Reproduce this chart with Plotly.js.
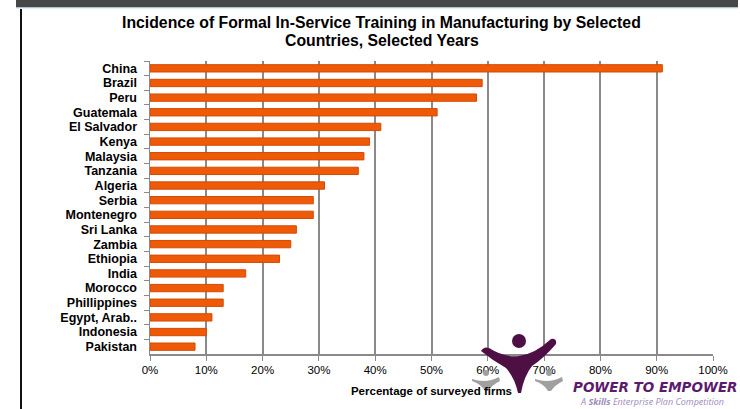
<!DOCTYPE html>
<html>
<head>
<meta charset="utf-8">
<script src="https://cdn.plot.ly/plotly-3.0.1.min.js"></script>
<style>html,body{margin:0;padding:0;background:#fff;}#chart{width:740px;height:409px;}</style>
</head>
<body>
<div id="chart"></div>
<script>
const countries = ["China","Brazil","Peru","Guatemala","El Salvador","Kenya","Malaysia","Tanzania","Algeria","Serbia","Montenegro","Sri Lanka","Zambia","Ethiopia","India","Morocco","Phillippines","Egypt, Arab..","Indonesia","Pakistan"];
const shares = [0.91,0.59,0.58,0.51,0.41,0.39,0.38,0.37,0.31,0.29,0.29,0.26,0.25,0.23,0.17,0.13,0.13,0.11,0.10,0.08];
const xTickVals = [0,0.1,0.2,0.3,0.4,0.5,0.6,0.7,0.8,0.9,1.0];
const xTickText = ["0%","10%","20%","30%","40%","50%","60%","70%","80%","90%","100%"];
const titleLines = ["Incidence of Formal In-Service Training in Manufacturing by Selected", "Countries, Selected Years"];
const xTitle = "Percentage of surveyed firms";
const logoText = "POWER TO EMPOWER";
const logoSub = "A <b>Skills</b> Enterprise Plan Competition";

const W = 740, H = 409, L = 150, R = 27, T = 61, B = 55;
const px = x => (x - L) / (W - L - R);
const py = y => (H - B - y) / (H - T - B);

const trace = {
  type: "bar",
  orientation: "h",
  y: countries,
  x: shares,
  marker: {color: "#ee5a08", line: {color: "#d44b02", width: 1}},
  width: 0.5,
  hoverinfo: "skip"
};

const purple = "#4e0f45";
const grey = "#a0a0a0";
const smallFig = cx => [
  {type:"circle", xref:"paper", yref:"paper", x0:px(cx-3), x1:px(cx+3), y0:py(370), y1:py(376), fillcolor:grey, line:{width:0}},
  {type:"path", xref:"paper", yref:"paper", path:`M ${px(cx-14)} ${py(379)} Q ${px(cx)} ${py(384)} ${px(cx+13)} ${py(377)} L ${px(cx+14)} ${py(381)} Q ${px(cx+6)} ${py(385)} ${px(cx+2)} ${py(391)} L ${px(cx-1)} ${py(391)} Q ${px(cx-5)} ${py(384)} ${px(cx-14)} ${py(381)} Z`, fillcolor:grey, line:{width:0}}
];

const shapes = [
  {type:"rect", xref:"paper", yref:"paper", x0:px(16), x1:px(738), y0:py(0), y1:py(7.5), fillcolor:"#474747", line:{width:0}},
  {type:"line", xref:"paper", yref:"paper", x0:px(16), x1:px(738), y0:py(8), y1:py(8), line:{color:"#bfe8ee", width:1}},
  {type:"line", xref:"paper", yref:"paper", x0:px(21), x1:px(21), y0:py(9), y1:py(409), line:{color:"#111", width:2}},
  ...smallFig(486),
  ...smallFig(549),
  {type:"circle", xref:"paper", yref:"paper", x0:px(512), x1:px(526), y0:py(334), y1:py(348), fillcolor:purple, line:{width:0}},
  {type:"path", xref:"paper", yref:"paper", path:`M ${px(481)} ${py(351)} Q ${px(484)} ${py(346)} ${px(489)} ${py(348)} Q ${px(505)} ${py(358)} ${px(519)} ${py(356)} Q ${px(535)} ${py(354)} ${px(551)} ${py(339)} Q ${px(557)} ${py(338)} ${px(556)} ${py(344)} Q ${px(544)} ${py(358)} ${px(532)} ${py(366)} Q ${px(524)} ${py(376)} ${px(521)} ${py(393)} L ${px(518)} ${py(393)} Q ${px(515)} ${py(378)} ${px(506)} ${py(368)} Q ${px(492)} ${py(360)} ${px(481)} ${py(351)} Z`, fillcolor:purple, line:{width:0}}
];

const titleFont = {family: "Liberation Sans, Arial", size: 15.8, color: "#000", weight: "bold"};
const annotations = [
  {xref:"paper", yref:"paper", x:px(381.5), y:py(22), text:titleLines[0], showarrow:false, xanchor:"center", yanchor:"middle", font:titleFont},
  {xref:"paper", yref:"paper", x:px(381.5), y:py(40), text:titleLines[1], showarrow:false, xanchor:"center", yanchor:"middle", font:titleFont},
  {xref:"paper", yref:"paper", x:px(655), y:py(387), text:"<b><i>" + logoText + "</i></b>", showarrow:false, xanchor:"center", yanchor:"middle", font:{family:"DejaVu Sans, Arial", size:13.5, color:"#5b1a6e"}},
  {xref:"paper", yref:"paper", x:px(652), y:py(401), text:"<i>" + logoSub + "</i>", showarrow:false, xanchor:"center", yanchor:"middle", font:{family:"Open Sans, Arial", size:9, color:"#9d8bbd"}}
];

const layout = {
  width: W, height: H,
  margin: {l: L, r: R, t: T, b: B, pad: 0},
  paper_bgcolor: "#fff", plot_bgcolor: "#fff",
  showlegend: false,
  xaxis: {range: [0, 1], tickvals: xTickVals, ticktext: xTickText, showgrid: true, gridcolor: "#8a8a8a", gridwidth: 2,
          zeroline: false, showline: true, linecolor: "#8a8a8a", linewidth: 1.5, ticks: "outside", ticklen: 5, tickcolor: "#8a8a8a",
          tickfont: {family: "Liberation Sans, Arial", size: 11.5, color: "#000"}, fixedrange: true,
          title: {text: "<b>" + xTitle + "</b>", standoff: 11, font: {family: "Liberation Sans, Arial", size: 11.5, color: "#000"}}},
  yaxis: {autorange: "reversed", type: "category", tickmode: "linear", tick0: 0, dtick: 1,
          showgrid: false, zeroline: false, showline: true, linecolor: "#8a8a8a", linewidth: 1.5,
          ticks: "outside", tickson: "boundaries", ticklen: 5, tickcolor: "#8a8a8a",
          tickfont: {family: "Liberation Sans, Arial", size: 12.5, color: "#000", weight: "bold"}, ticklabelstandoff: 9, fixedrange: true},
  shapes: shapes,
  annotations: annotations
};

Plotly.newPlot("chart", [trace], layout, {displayModeBar: false, staticPlot: true});
</script>
</body>
</html>
